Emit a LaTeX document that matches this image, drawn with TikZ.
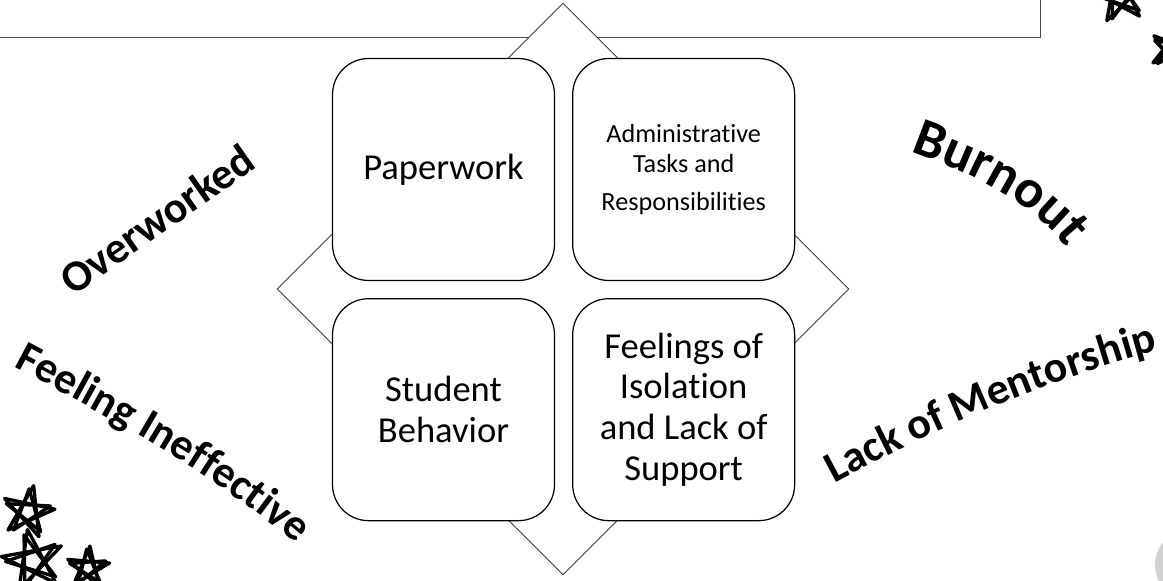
\documentclass[tikz,border=0pt]{standalone}
\usepackage{fontspec}
\setmainfont{Carlito}[Ligatures=NoCommon]
\usetikzlibrary{shapes.geometric,positioning,decorations.text}

\newcommand\loudfont{\bfseries\fontsize{25}{30}\selectfont}
\newcommand\louderfont{\bfseries\fontsize{31}{36}\selectfont}

\tikzset{
  quad/.style={rectangle, draw, rounded corners=0.72cm, fill=white, line width=0.7pt,
    minimum width=4.44cm, minimum height=4.44cm, align=center, inner sep=2pt,
    font=\fontsize{20.8}{23.3}\selectfont},
  rhomb/.style={diamond, draw=black!75, fill=white, line width=0.5pt,
    minimum width=11.44cm, minimum height=11.44cm, inner sep=0pt},
  scrawl/.style={line width=1.9pt, line join=round, line cap=round},
  pics/doodle/.style={code={
    \draw[scrawl] (-90:1) -- (54:1) -- (198:1) -- (342:1) -- (126:1) -- cycle;
    \draw[scrawl, rotate=9, scale=0.86] (-90:1) -- (54:1) -- (198:1) -- (342:1) -- (126:1) -- cycle;
  }}
}

\begin{document}
\begin{tikzpicture}[x=0.02cm, y=-0.02cm]
  \useasboundingbox (0,0) rectangle (1163,581);
  \clip (0,0) rectangle (1163,581);

  % frame along the top edge
  \draw[black!70, line width=0.5pt] (-5,-5) rectangle (1040,37);
  % grey disc in the corner
  \fill[black!18] (1192,565) circle (37);

  % diamond behind the four boxes
  \node[rhomb] (frame) at (563,289) {};

  \node[quad] (paperwork) at (443.5,169.5) {Paperwork};
  \node[quad, right=0.34cm of paperwork, font=\fontsize{14.9}{17.1}\selectfont] (admin)
    {Administrative\\Tasks and\\[5pt]Responsibilities};
  \node[quad, below=0.34cm of paperwork] (student) {Student\\Behavior};
  \node[quad, right=0.34cm of student] (isolation) {Feelings of\\Isolation\\and Lack of\\Support};

  % words around the diamond
  \node[rotate=35, font=\loudfont] (overworked) at (157,219) {Overworked};
  \path[decorate, decoration={text along path, text align=center,
      text={|\loudfont|Feeling Ineffective}}]
    (-3,358) -- (15,367) .. controls (112,419) and (211,472) .. (295,543) -- (310,556);
  \path[decorate, decoration={text along path, text align=center,
      text={|\louderfont|Burnout}}]
    (896,146) -- (915,153) .. controls (971,174) and (1026,198) .. (1064,244) -- (1077,260);
  \path[decorate, decoration={text along path, text align=center,
      text={|\loudfont|Lack of Mentorship}}]
    (821,490) -- (839,481) .. controls (936,429) and (1046,381) .. (1152,352) -- (1172,347);

  % doodled stars
  \foreach \x/\y/\r/\a in {1120/-4/28/8, 1172/50/23/-20, 28/512/27/-12, 33/561/32/10, 88/568/22/-5}
    \pic[rotate=\a, scale=\r] at (\x,\y) {doodle};
\end{tikzpicture}
\end{document}
